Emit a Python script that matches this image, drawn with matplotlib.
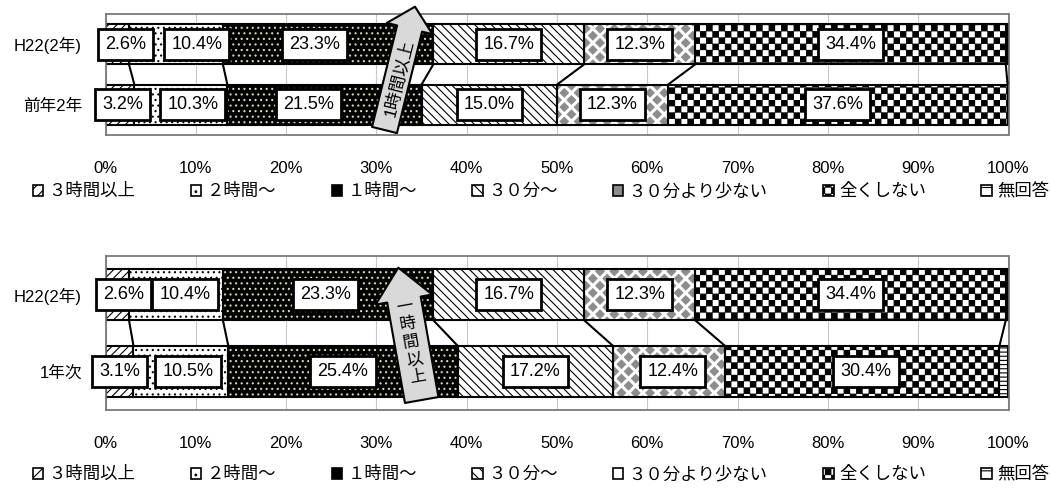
import numpy as np
import matplotlib
matplotlib.use("Agg")
import matplotlib.pyplot as plt
import matplotlib.hatch as mhatch
from matplotlib.path import Path
from matplotlib.patches import Patch

# ---------------- data ----------------
series_names = ["3時間以上", "2時間～", "1時間～", "30分～", "30分より少ない", "全くしない", "無回答"]
legend_labels = ["３時間以上", "２時間～", "１時間～", "３０分～", "３０分より少ない", "全くしない", "無回答"]

top_rows = ["H22(2年)", "前年2年"]
top_h22 = [2.6, 10.4, 23.3, 16.7, 12.3, 34.4, 0.3]
top_prev = [3.2, 10.3, 21.5, 15.0, 12.3, 37.6, 0.1]

bottom_rows = ["H22(2年)", "1年次"]
bottom_h22 = [2.6, 10.4, 23.3, 16.7, 12.3, 34.4, 0.3]
bottom_first = [3.1, 10.5, 25.4, 17.2, 12.4, 30.4, 1.0]

xticks = [0, 10, 20, 30, 40, 50, 60, 70, 80, 90, 100]
xtick_labels = ["0%", "10%", "20%", "30%", "40%", "50%", "60%", "70%", "80%", "90%", "100%"]

top_arrow_text = "1時間以上"
bottom_arrow_text = "一時間以上"

# label placement nudges (percent units) for crowded small segments
nudge_top = [[0.9, 2.3, -1.5, 0, 0, 0], [0.3, 1.3, -1.8, 0, 0, 0]]
nudge_bottom = [[0.7, 1.0, -0.3, 0, 0, 0], [0.0, 0.8, 0.0, 0, 0.4, 0.4]]


# ---------------- custom hatch textures ----------------
class _PolyHatch(mhatch.HatchPatternBase):
    char = None

    def __init__(self, hatch, density):
        self.polys = self.make() if (hatch and self.char in hatch) else []
        self.num_vertices = 5 * len(self.polys)

    def set_vertices_and_codes(self, vertices, codes):
        for k, p in enumerate(self.polys):
            vertices[5 * k:5 * k + 5] = p
            codes[5 * k] = Path.MOVETO
            codes[5 * k + 1:5 * k + 4] = Path.LINETO
            codes[5 * k + 4] = Path.CLOSEPOLY


class CheckerHatch(_PolyHatch):
    char = "O"

    def make(self):
        n, e = 16, 0.004
        s = 1.0 / n
        out = []
        for i in range(n):
            for j in range(n):
                if (i + j) % 2 == 0:
                    x0, x1 = i * s + e, (i + 1) * s - e
                    y0, y1 = j * s + e, (j + 1) * s - e
                    out.append([[x0, y0], [x1, y0], [x1, y1], [x0, y1], [x0, y0]])
        return out


class DiamondHatch(_PolyHatch):
    char = "*"

    def make(self):
        n, r = 7, 0.042
        d = 1.0 / n
        centers = [(i * d, j * d) for i in range(n + 1) for j in range(n + 1)]
        centers += [((i + 0.5) * d, (j + 0.5) * d) for i in range(n) for j in range(n)]
        return [[[cx, cy - r], [cx + r, cy], [cx, cy + r], [cx - r, cy], [cx, cy - r]]
                for cx, cy in centers]


mhatch._hatch_types = [h for h in mhatch._hatch_types
                       if h not in (mhatch.LargeCircles, mhatch.Stars)] + [CheckerHatch, DiamondHatch]

plt.rcParams["font.family"] = ["Liberation Sans", "Noto Sans CJK JP"]
plt.rcParams["hatch.linewidth"] = 0.8

# fill, hatch colour, hatch
styles = [
    ("white", "black", "////"),
    ("white", "black", "..."),
    ("black", "#d8d8a8", "..."),
    ("white", "black", "\\\\\\\\"),
    ("white", "#8c8c8c", "*"),
    ("white", "black", "O"),
    ("white", "black", "----"),
]
legend_hatches = ["///", "..", "", "\\\\\\", "", "O", "--"]

fig = plt.figure(figsize=(10.5, 4.9), dpi=100)
W, H = 1050.0, 490.0
ax1 = fig.add_axes([105.5 / W, 1 - 135 / H, 903 / W, 121 / H])
ax2 = fig.add_axes([105.5 / W, 1 - 410 / H, 903 / W, 154 / H])

BAR_H = 0.667


def draw_chart(ax, rows, data, nudges):
    ypos = [1, 0]
    lefts = [np.concatenate([[0], np.cumsum(v)[:-1]]) for v in data]
    cums = [np.cumsum(v) for v in data]
    for k in range(len(series_names)):
        fc, hc, hatch = styles[k]
        widths = [data[0][k], data[1][k]]
        lf = [lefts[0][k], lefts[1][k]]
        ax.barh(ypos, widths, left=lf, height=BAR_H, color=fc, edgecolor=hc,
                linewidth=0, hatch=hatch, zorder=2)
        ax.barh(ypos, widths, left=lf, height=BAR_H, fill=False,
                edgecolor="black", linewidth=1.5, zorder=2.5)
    # series lines
    for k in range(len(series_names) - 1):
        ax.plot([cums[0][k], cums[1][k]], [1 - BAR_H / 2, BAR_H / 2],
                color="black", lw=1.5, zorder=2.6, solid_capstyle="butt")
    # labels
    for r, yi in enumerate(ypos):
        for k in range(len(series_names) - 1):
            v = data[r][k]
            xc = lefts[r][k] + v / 2 + nudges[r][k]
            ax.text(xc, yi, f"{v:.1f}%", ha="center", va="center", fontsize=13,
                    zorder=5, clip_on=False,
                    bbox=dict(boxstyle="square,pad=0.4", fc="white", ec="black", lw=2))
    ax.set_xlim(0, 100)
    ax.set_ylim(-0.5, 1.5)
    ax.set_xticks(xticks)
    ax.set_xticklabels(xtick_labels)
    ax.set_yticks(ypos)
    ax.set_yticklabels(rows)
    ax.tick_params(axis="x", length=0, pad=19, labelsize=12)
    ax.tick_params(axis="y", length=0, pad=17, labelsize=12)
    ax.set_axisbelow(True)
    ax.grid(axis="x", color="#c8c8c8", lw=0.8)
    for sp in ax.spines.values():
        sp.set_color("#707070")
        sp.set_linewidth(1.2)


draw_chart(ax1, top_rows, [top_h22, top_prev], nudge_top)
draw_chart(ax2, bottom_rows, [bottom_h22, bottom_first], nudge_bottom)


def legend_handles(gray_short):
    hs = []
    for k in range(len(series_names)):
        fc = styles[k][0]
        if k == 4:
            fc = "#8c8c8c" if gray_short else "white"
        hs.append(Patch(facecolor=fc, edgecolor="black", hatch=legend_hatches[k], linewidth=1.2))
    return hs


for y_img, gray in ((191, True), (474, False)):
    fig.legend(legend_handles(gray), legend_labels, loc="center",
               bbox_to_anchor=(541 / W, 1 - y_img / H), ncol=7, frameon=False,
               fontsize=12.5, handlelength=0.6, handleheight=0.6, handletextpad=0.3,
               columnspacing=3.2, borderpad=0)

# arrows (figure pixel coordinates)
ax1.annotate("", xy=(415, H - 6.7), xytext=(384.5, H - 130),
             xycoords="figure pixels", textcoords="figure pixels",
             arrowprops=dict(arrowstyle="simple,head_length=1.62,head_width=3.38,tail_width=1.85",
                             mutation_scale=10, fc="#d9d9d9", ec="black", lw=1.5,
                             shrinkA=0, shrinkB=0),
             annotation_clip=False, zorder=10)
ax2.annotate("", xy=(398.3, H - 267.7), xytext=(421.7, H - 400),
             xycoords="figure pixels", textcoords="figure pixels",
             arrowprops=dict(arrowstyle="simple,head_length=2.33,head_width=4.14,tail_width=2.45",
                             mutation_scale=10, fc="#d9d9d9", ec="black", lw=1.5,
                             shrinkA=0, shrinkB=0),
             annotation_clip=False, zorder=10)

fig.text(399 / W, 1 - 78 / H, top_arrow_text, rotation=76, ha="center", va="center",
         rotation_mode="anchor", fontsize=12.5, zorder=20)
fig.text(411 / W, 1 - 342 / H, "\n".join(bottom_arrow_text), rotation=10, ha="center",
         va="center", rotation_mode="anchor", fontsize=12, linespacing=1.25, zorder=20,
         multialignment="center")

fig.savefig("out.png", dpi=100)
